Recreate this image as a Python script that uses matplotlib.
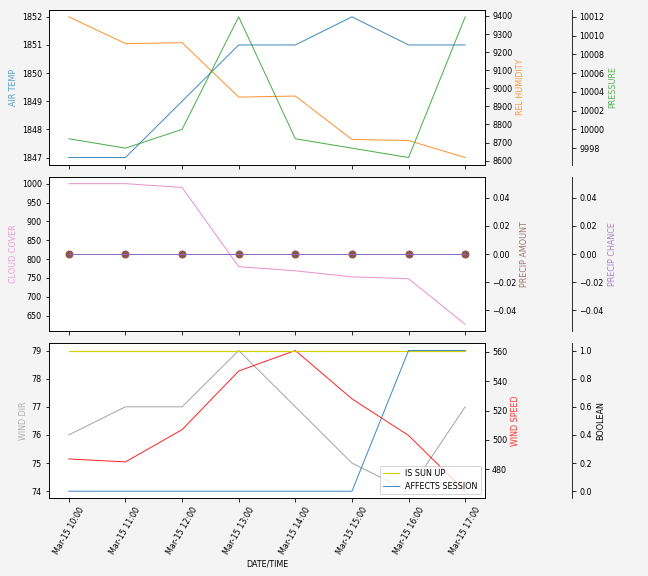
import pandas as pd
import numpy as np
import matplotlib
matplotlib.use('Agg')
import matplotlib.pyplot as plt
import matplotlib.dates as mdates

plt.rcParams['font.size'] = 8

times = pd.date_range('2024-03-15 10:00', periods=8, freq='h')

air_temp = [1847, 1847, 1849, 1851, 1851, 1852, 1851, 1851]
rel_humidity = [9395, 9247, 9252, 8951, 8957, 8717, 8711, 8617]
pressure = [9999, 9998, 10000, 10012, 9999, 9998, 9997, 10012]

cloud_cover = [1000, 1000, 990, 780, 769, 753, 748, 627]
precip_amount = [0, 0, 0, 0, 0, 0, 0, 0]
precip_chance = [0, 0, 0, 0, 0, 0, 0, 0]

wind_dir = [76, 77, 77, 79, 77, 75, 74, 77]
wind_speed = [487, 485, 507, 547, 561, 528, 503, 465]
is_sun_up = [1, 1, 1, 1, 1, 1, 1, 1]
affects_session = [0, 0, 0, 0, 0, 0, 1, 1]

LW = 1.0
ALPHA = 0.85


def make_third(ax):
    ax3 = ax.twinx()
    ax3.spines['right'].set_position(('axes', 1.2))
    ax3.set_frame_on(True)
    ax3.patch.set_visible(False)
    for sp in ax3.spines.values():
        sp.set_visible(False)
    ax3.spines['right'].set_visible(True)
    return ax3


fig, axes = plt.subplots(3, 1, figsize=(9, 8), dpi=72, sharex=True)
fig.patch.set_facecolor('#f4f4f4')
fig.subplots_adjust(left=0.0756, right=0.7485, top=0.983, bottom=0.135, hspace=0.078)

# panel 1
ax = axes[0]
ax.plot(times, air_temp, color='#1f77b4', lw=LW, alpha=ALPHA)
ax.set_ylabel('AIR TEMP', color='#1f77b4', alpha=0.7)
ax2 = ax.twinx()
ax2.plot(times, rel_humidity, color='#ff7f0e', lw=LW, alpha=ALPHA)
ax2.set_ylabel('REL HUMIDITY', color='#ff7f0e', alpha=0.8)
ax3 = make_third(ax)
ax3.plot(times, pressure, color='#2ca02c', lw=LW, alpha=ALPHA)
ax3.set_ylabel('PRESSURE', color='#2ca02c', alpha=0.8)

# panel 2
ax = axes[1]
ax.plot(times, cloud_cover, color='#e377c2', lw=LW, alpha=0.8)
ax.set_ylabel('CLOUD COVER', color='#e377c2', alpha=0.7)
ax2 = ax.twinx()
ax2.plot(times, precip_amount, color='#8c564b', lw=LW, marker='o', markersize=7)
ax2.set_ylabel('PRECIP AMOUNT', color='#8c564b', alpha=0.8)
ax3 = make_third(ax)
ax3.plot(times, precip_chance, color='#9467bd', lw=LW)
ax3.set_ylabel('PRECIP CHANCE', color='#9467bd', alpha=0.8)

# panel 3
ax = axes[2]
ax.plot(times, wind_dir, color='#7f7f7f', lw=LW, alpha=0.7)
ax.set_ylabel('WIND DIR', color='#7f7f7f', alpha=0.6)
ax2 = ax.twinx()
ax2.plot(times, wind_speed, color='red', lw=LW, alpha=ALPHA)
ax2.set_ylabel('WIND SPEED', color='red', alpha=0.8)
ax3 = make_third(ax)
ax3.plot(times, is_sun_up, color='#d2d200', lw=1.2, label='IS SUN UP')
ax3.plot(times, affects_session, color='#1f77b4', lw=LW, alpha=ALPHA, label='AFFECTS SESSION')
ax3.set_ylabel('BOOLEAN')
ax3.legend(loc='lower right')

ax.xaxis.set_major_locator(mdates.HourLocator())
ax.xaxis.set_major_formatter(mdates.DateFormatter('%b-%d %H:%M'))
for lbl in ax.get_xticklabels():
    lbl.set_rotation(60)
    lbl.set_ha('center')
ax.set_xlabel('DATE/TIME')

fig.savefig('out.png', facecolor=fig.get_facecolor())
